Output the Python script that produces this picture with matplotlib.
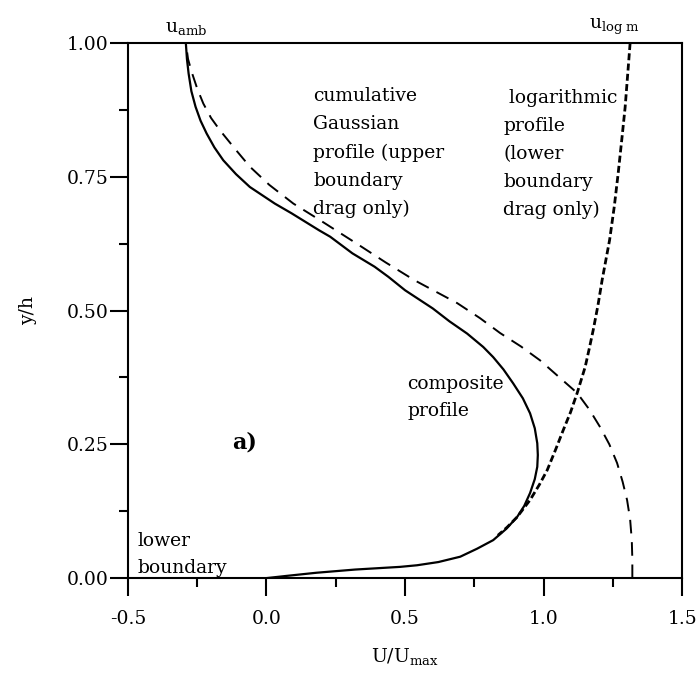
import matplotlib
matplotlib.use("Agg")
import matplotlib.pyplot as plt
from matplotlib.ticker import MultipleLocator, FormatStrFormatter

plt.rcParams['font.family'] = ['DejaVu Serif']
plt.rcParams['mathtext.fontset'] = 'dejavuserif'

# composite profile (solid)
comp_u = [-0.291, -0.287, -0.281, -0.271, -0.256, -0.238, -0.216, -0.188, -0.156, -0.110,
          -0.060, 0.030, 0.090, 0.190, 0.230, 0.310, 0.390, 0.440, 0.500, 0.600,
          0.660, 0.724, 0.782, 0.818, 0.855, 0.890, 0.925, 0.951, 0.968, 0.977,
          0.979, 0.977, 0.968, 0.951, 0.930, 0.904, 0.865, 0.818, 0.760, 0.699,
          0.620, 0.543, 0.482, 0.320, 0.180, 0.070, 0.000]
comp_y = [1.000, 0.970, 0.943, 0.910, 0.881, 0.855, 0.831, 0.805, 0.781, 0.755,
          0.731, 0.700, 0.682, 0.650, 0.638, 0.607, 0.582, 0.563, 0.538, 0.504,
          0.480, 0.457, 0.432, 0.413, 0.390, 0.364, 0.336, 0.308, 0.280, 0.252,
          0.230, 0.208, 0.185, 0.159, 0.135, 0.114, 0.092, 0.071, 0.055, 0.040,
          0.030, 0.024, 0.021, 0.016, 0.010, 0.004, 0.000]

# cumulative Gaussian profile (dashed)
gauss_u = [-0.291, -0.283, -0.270, -0.250, -0.228, -0.200, -0.168, -0.110, -0.060, 0.010,
           0.097, 0.193, 0.326, 0.430, 0.533, 0.688, 0.770, 0.843, 0.918, 0.987,
           1.055, 1.121, 1.165, 1.204, 1.237, 1.265, 1.285, 1.301, 1.312, 1.318,
           1.320, 1.320]
gauss_y = [1.000, 0.970, 0.946, 0.915, 0.887, 0.860, 0.837, 0.800, 0.769, 0.735,
           0.700, 0.669, 0.625, 0.590, 0.557, 0.514, 0.486, 0.458, 0.433, 0.407,
           0.376, 0.346, 0.315, 0.282, 0.250, 0.215, 0.180, 0.146, 0.110, 0.071,
           0.035, 0.000]

# logarithmic profile (short dashes)
log_u = [1.312, 1.303, 1.294, 1.282, 1.269, 1.255, 1.238, 1.211, 1.196, 1.179,
         1.165, 1.150, 1.121, 1.097, 1.071, 1.043, 1.013, 0.985, 0.951, 0.904,
         0.868, 0.835]
log_y = [1.000, 0.940, 0.880, 0.820, 0.757, 0.695, 0.632, 0.557, 0.510, 0.464,
         0.430, 0.395, 0.346, 0.310, 0.277, 0.240, 0.202, 0.175, 0.146, 0.114,
         0.095, 0.080]

FS = 13.5

fig = plt.figure(figsize=(6.99, 6.73), dpi=100)
ax = fig.add_axes([0.183, 0.141, 0.793, 0.795])

ax.plot(comp_u, comp_y, color='black', lw=1.6)
# drawn from the wall upward so a dash starts on the axis
ax.plot(gauss_u[::-1], gauss_y[::-1], color='black', lw=1.4, dashes=[7, 4.5])
ax.plot(log_u, log_y, color='black', lw=2.0, dashes=[2.5, 1.2])

ax.set_xlim(-0.5, 1.5)
ax.set_ylim(0, 1)
ax.xaxis.set_major_locator(MultipleLocator(0.5))
ax.xaxis.set_minor_locator(MultipleLocator(0.25))
ax.yaxis.set_major_locator(MultipleLocator(0.25))
ax.yaxis.set_minor_locator(MultipleLocator(0.125))
ax.xaxis.set_major_formatter(FormatStrFormatter('%.1f'))
ax.yaxis.set_major_formatter(FormatStrFormatter('%.2f'))
ax.tick_params(which='major', direction='out', length=13, width=1.5, labelsize=FS)
ax.tick_params(axis='y', which='major', pad=1)
ax.tick_params(axis='x', which='major', pad=10)
ax.tick_params(which='minor', direction='out', length=6.5, width=1.5)
for s in ax.spines.values():
    s.set_linewidth(1.5)

ax.set_xlabel(r'U/U$_{\mathrm{max}}$', fontsize=FS, labelpad=13)
ax.set_ylabel('y/h', fontsize=FS, labelpad=21)

ax.text(0.168, 0.918, 'cumulative\nGaussian\nprofile (upper\nboundary\ndrag only)',
        fontsize=FS, va='top', ha='left', linespacing=1.72)
ax.text(0.854, 0.915, ' logarithmic\nprofile\n(lower\nboundary\ndrag only)',
        fontsize=FS, va='top', ha='left', linespacing=1.72)
ax.text(0.507, 0.379, 'composite\nprofile', fontsize=FS, va='top', ha='left',
        linespacing=1.6)
ax.text(-0.464, 0.003, 'lower\nboundary', fontsize=FS, va='bottom', ha='left',
        linespacing=1.6)
ax.text(-0.125, 0.254, 'a)', fontsize=16, fontweight='bold', va='center', ha='left')

ax.text(-0.29, 1.012, r'u$_{\mathrm{amb}}$', fontsize=FS, va='bottom', ha='center')
ax.text(1.255, 1.012, r'u$_{\mathrm{log\ m}}$', fontsize=FS, va='bottom', ha='center')

fig.savefig('out.png', dpi=100)
